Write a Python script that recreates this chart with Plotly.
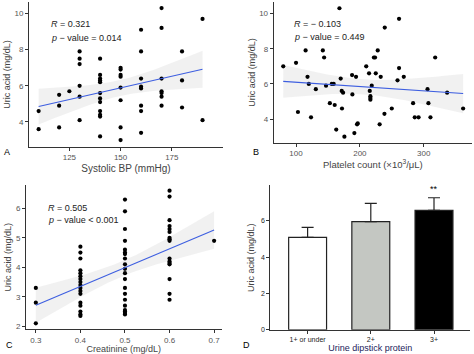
import numpy as np
import plotly.graph_objects as go

# ---------------- data ----------------
# Panel A: Systolic BP vs uric acid
sbp_x = [110, 110,
         120, 120, 120,
         125,
         130, 130, 130, 130, 130, 130,
         140, 140, 140, 140, 140, 140, 140, 140, 140, 140, 140, 140,
         150, 150, 150, 150, 150, 150, 150, 150,
         160, 160, 160, 160, 160, 160, 160, 160,
         170, 170, 170, 170, 170, 170, 170,
         180, 180, 180,
         190, 190]
sbp_y = [4.6, 3.6,
         5.5, 4.9, 3.7,
         5.7,
         7.9, 7.5, 7.2, 6.0, 5.4, 4.1,
         7.5, 6.6, 6.4, 6.3, 6.2, 5.6, 5.3, 5.1, 4.6, 4.4, 4.3, 3.2,
         7.0, 6.9, 6.6, 6.5, 5.9, 5.2, 3.7, 3.0,
         9.1, 7.9, 6.4, 5.95, 5.85, 4.9, 4.6, 3.4,
         10.3, 9.2, 6.4, 5.7, 5.6, 5.4, 4.9,
         7.9, 6.3, 4.8,
         9.7, 4.1]

# Panel B: platelet count vs uric acid
plt_x = [80, 100, 115, 103, 118, 120, 123.5, 131, 142, 144, 147, 153, 156, 159, 160.6,
         163, 168, 170, 171.6, 173.7, 172, 175.8, 187.8, 188.3, 191.4, 194, 195.6, 196.7,
         210, 214.4, 215.5, 216.5, 216.5, 216.5, 218.6, 222, 223.8, 224.9, 228, 231, 232.7,
         239, 238.5, 250, 259, 261.4, 261.4, 268.8, 283.4, 286, 292, 306, 307.4, 310.6,
         318, 336.7, 361.8]
plt_y = [7.0, 7.2, 7.9, 4.4, 6.4, 6.0, 4.1, 5.7, 7.9, 7.5, 5.9, 4.9, 6.0, 6.0, 4.8,
         3.4, 10.3, 6.3, 5.6, 5.5, 4.6, 3.0, 6.5, 5.4, 3.2, 6.4, 3.7, 3.75,
         7.0, 6.6, 5.6, 5.3, 5.2, 5.1, 5.9, 7.5, 7.5, 6.6, 7.9, 3.7, 6.4,
         9.2, 4.3, 4.6, 6.2, 9.7, 6.9, 6.4, 4.9, 4.1, 4.1, 5.7, 4.9, 4.1,
         7.5, 5.5, 4.6]

# Panel C: creatinine vs uric acid
cre_levels = [0.3, 0.4, 0.5, 0.6, 0.7]
cre_groups = [
    [3.3, 2.8, 2.1],
    [4.7, 4.5, 4.3, 3.9, 3.8, 3.7, 3.6, 3.5, 3.4, 3.3, 3.2, 3.1, 2.8, 2.7, 2.5, 2.4, 2.35],
    [6.3, 5.9, 5.3, 4.9, 4.6, 4.5, 4.45, 4.3, 4.1, 3.95, 3.8, 3.6, 3.3, 3.1, 2.9, 2.7,
     2.55, 2.5, 2.45, 2.4],
    [6.6, 6.4, 5.6, 5.4, 5.3, 5.2, 5.0, 4.95, 4.9, 4.3, 4.2, 4.15, 4.1, 3.6, 3.1, 2.9],
    [4.9],
]

# Panel D: bar chart
prot_cats = ["1+ or under", "2+", "3+"]
prot_mean = [5.09, 5.96, 6.58]
prot_err = [0.55, 1.0, 0.69]
prot_sig = ["", "", "**"]

stats_text = {
    "A": ["<i>R</i> = 0.321", "<i>p</i> − value = 0.014"],
    "B": ["<i>R</i> = − 0.103", "<i>p</i> − value = 0.449"],
    "C": ["<i>R</i> = 0.505", "<i>p</i> − value < 0.001"],
}

# ---------------- helpers ----------------
FONT = "Liberation Sans, Arial, sans-serif"
LINE_BLUE = "#3d5ee0"
BAND = "rgba(195,195,195,0.24)"


def fit_band(x, y, n=60):
    x = np.asarray(x, float)
    y = np.asarray(y, float)
    b, a = np.polyfit(x, y, 1)
    xs = np.linspace(x.min(), x.max(), n)
    yhat = a + b * xs
    resid = y - (a + b * x)
    s = np.sqrt(np.sum(resid ** 2) / (len(x) - 2))
    sxx = np.sum((x - x.mean()) ** 2)
    se = s * np.sqrt(1.0 / len(x) + (xs - x.mean()) ** 2 / sxx)
    t = 2.0
    return xs, yhat, yhat + t * se, yhat - t * se


fig = go.Figure()

cre_x = [lvl for lvl, g in zip(cre_levels, cre_groups) for _ in g]
cre_y = [v for g in cre_groups for v in g]

for (xv, yv, xa, ya) in [(sbp_x, sbp_y, "x", "y"),
                         (plt_x, plt_y, "x2", "y2"),
                         (cre_x, cre_y, "x3", "y3")]:
    xs, yh, up, lo = fit_band(xv, yv)
    fig.add_trace(go.Scatter(x=np.concatenate([xs, xs[::-1]]),
                             y=np.concatenate([up, lo[::-1]]),
                             fill="toself", fillcolor=BAND, line=dict(width=0),
                             mode="lines", hoverinfo="skip", xaxis=xa, yaxis=ya))
    fig.add_trace(go.Scatter(x=xv, y=yv, mode="markers",
                             marker=dict(color="black", size=4.2),
                             xaxis=xa, yaxis=ya))
    fig.add_trace(go.Scatter(x=xs, y=yh, mode="lines",
                             line=dict(color=LINE_BLUE, width=1.1),
                             xaxis=xa, yaxis=ya))

# bars
fig.add_trace(go.Bar(
    x=list(range(len(prot_cats))), y=prot_mean, width=0.6,
    marker=dict(color=["white", "#c4c7c2", "black"],
                line=dict(color="#222222", width=1.2)),
    error_y=dict(type="data", symmetric=False, array=prot_err,
                 arrayminus=[0] * len(prot_err), color="#222222",
                 thickness=1.2, width=6),
    xaxis="x4", yaxis="y4"))

axis_common = dict(showline=True, linecolor="#333333", linewidth=1,
                   ticks="outside", ticklen=3, tickcolor="#333333",
                   showgrid=False, zeroline=False,
                   tickfont=dict(family=FONT, size=8, color="#555555"))
title_font = dict(family=FONT, size=10, color="#444444")
ytitle_font = dict(family=FONT, size=9, color="#444444")

fig.update_layout(
    width=474, height=354,
    margin=dict(l=0, r=0, t=0, b=0),
    paper_bgcolor="white", plot_bgcolor="white",
    showlegend=False,
    font=dict(family=FONT),
    xaxis=dict(axis_common, domain=[0.0612, 0.4705], range=[105.3, 200], anchor="y",
               tickvals=[125, 150, 175],
               title=dict(text="Systolic BP (mmHg)", font=title_font, standoff=3)),
    yaxis=dict(axis_common, domain=[0.582, 0.994], range=[2.63, 10.63], anchor="x",
               tickvals=[4, 6, 8, 10],
               title=dict(text="Uric acid (mg/dL)", font=ytitle_font, standoff=2)),
    xaxis2=dict(axis_common, domain=[0.5774, 0.9958], range=[65, 375.7], anchor="y2",
                tickvals=[100, 200, 300],
                title=dict(text="Platelet count (×10<sup>3</sup>/μL)",
                           font=dict(family=FONT, size=9.5, color="#444444"), standoff=3)),
    yaxis2=dict(axis_common, domain=[0.5932, 0.994], range=[2.65, 10.65], anchor="x2",
                tickvals=[4, 6, 8, 10],
                title=dict(text="Uric acid (mg/dL)", font=ytitle_font, standoff=2)),
    xaxis3=dict(axis_common, domain=[0.0549, 0.4677], range=[0.278, 0.717], anchor="y3",
                tickvals=cre_levels, ticktext=[f"{v:.1f}" for v in cre_levels],
                title=dict(text="Creatinine (mg/dL)",
                           font=dict(family=FONT, size=9, color="#444444"), standoff=0)),
    yaxis3=dict(axis_common, domain=[0.0621, 0.4718], range=[1.9, 6.78], anchor="x3",
                tickvals=[2, 3, 4, 5, 6],
                title=dict(text="Uric acid (mg/dL)", font=ytitle_font, standoff=2)),
    xaxis4=dict(axis_common, domain=[0.5703, 0.9916], range=[-0.59, 2.57], anchor="y4",
                tickvals=list(range(len(prot_cats))), ticktext=prot_cats,
                tickfont=dict(family=FONT, size=7, color="#222222"),
                title=dict(text="Urine dipstick protein", standoff=1,
                           font=dict(family=FONT, size=9, color="#23235a"))),
    yaxis4=dict(axis_common, domain=[0.0602, 0.4718], range=[0, 7.95], anchor="x4",
                tickvals=[0, 2, 4, 6],
                tickfont=dict(family=FONT, size=7, color="#222222"),
                title=dict(text="Uric acid (mg/dL)", font=ytitle_font, standoff=4)),
)

annots = []
stat_pos = {"A": (49, 24, 38), "B": (292, 24, 37), "C": (46, 210, 222)}
for key, (px, py1, py2) in stat_pos.items():
    for txt, py in zip(stats_text[key], (py1, py2)):
        annots.append(dict(text=txt, xref="paper", yref="paper",
                           x=px / 474, y=1 - py / 354, xanchor="left", yanchor="middle",
                           showarrow=False, font=dict(family=FONT, size=9, color="#222222")))

for lab, px, py in [("A", 7, 153), ("B", 256, 153), ("C", 9, 348), ("D", 247, 348)]:
    annots.append(dict(text=lab, xref="paper", yref="paper", x=px / 474, y=1 - py / 354,
                       xanchor="center", yanchor="middle", showarrow=False,
                       font=dict(family=FONT, size=9, color="black")))

for i, s in enumerate(prot_sig):
    if s:
        annots.append(dict(text=s, xref="x4", yref="y4", x=i, y=prot_mean[i] + prot_err[i],
                           yshift=9, showarrow=False,
                           font=dict(family=FONT, size=9, color="black")))

fig.update_layout(annotations=annots)
fig.write_html("out.html")
